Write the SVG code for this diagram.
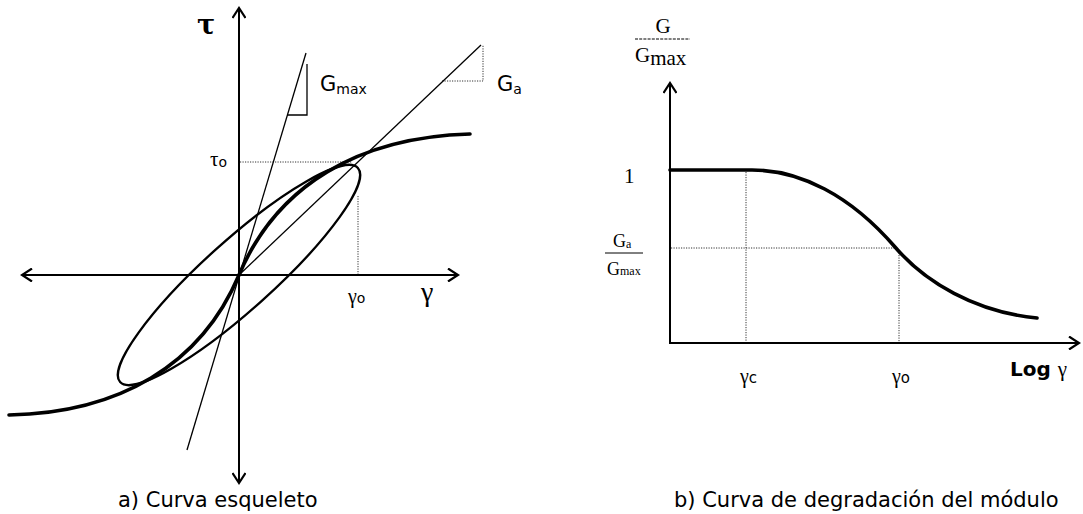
<svg xmlns="http://www.w3.org/2000/svg" width="1083" height="514" viewBox="0 0 1083 514">
<defs>
<marker id="arr" markerWidth="14" markerHeight="14" refX="0" refY="0" viewBox="-11 -7 13 14" orient="auto" markerUnits="userSpaceOnUse">
<path d="M-10,-6.5 L0,0 L-10,6.5" fill="none" stroke="#000" stroke-width="2.2" stroke-linejoin="miter"/>
</marker>
<style>
.ax{stroke:#000;stroke-width:2;fill:none}
.thick{stroke:#000;stroke-width:3.6;fill:none;stroke-linecap:round}
.loop{stroke:#000;stroke-width:2.3;fill:none}
.thin{stroke:#000;stroke-width:1.3;fill:none}
.dot{stroke:#333;stroke-width:1;stroke-dasharray:1.2 1.3;fill:none}
.sans{font-family:"DejaVu Sans","Verdana",sans-serif;fill:#000}
.serif{font-family:"Liberation Serif","Times New Roman",serif;fill:#000}
.dserif{font-family:"DejaVu Serif",serif;fill:#000}
</style>
</defs>
<rect width="1083" height="514" fill="#fff"/>

<g id="chart-a">
<g id="axes-a">
<line class="ax" x1="239" y1="483" x2="239" y2="8" marker-end="url(#arr)"/>
<line class="ax" x1="239" y1="478" x2="239" y2="483" marker-end="url(#arr)"/>
<line class="ax" x1="22" y1="275" x2="458" y2="275" marker-end="url(#arr)"/>
<line class="ax" x1="458" y1="275" x2="22" y2="275" marker-end="url(#arr)"/>
</g>
<g id="guides-a">
<line class="dot" x1="240" y1="162" x2="352" y2="162"/>
<line class="dot" x1="358" y1="196" x2="358" y2="274"/>
<polyline class="dot" points="442,81 483,81 483,45"/>
</g>
<g id="lines-a">
<line class="thin" x1="187" y1="450" x2="306" y2="53"/>
<polyline class="thin" points="287,115 307,115 307,64"/>
<line class="thin" x1="239" y1="275" x2="481" y2="45"/>
</g>
<g id="loop">
<ellipse class="loop" cx="239" cy="275" rx="160" ry="34.5" transform="rotate(-42 239 275)"/>
</g>
<g id="skeleton">
<path class="thick" d="M 9,415 C 119,413 201,365 239,275 C 277,185 359,137 470,134"/>
</g>
<g id="labels-a">
<text class="dserif" x="197" y="34" font-size="27" font-weight="bold">τ</text>
<text class="serif" x="210" y="166" font-size="21">τ<tspan class="sans" font-size="14" dy="1">o</tspan></text>
<text class="serif" x="348" y="303" font-size="20">γ<tspan class="sans" font-size="14">o</tspan></text>
<text class="serif" x="421" y="301" font-size="28">γ</text>
<text class="sans" x="320" y="91" font-size="21">G<tspan font-size="14" dy="3">max</tspan></text>
<text class="sans" x="497" y="91" font-size="21">G<tspan font-size="14" dy="3">a</tspan></text>
<text class="sans" x="118" y="507" font-size="21">a) Curva esqueleto</text>
</g>
</g>

<g id="chart-b">
<g id="axes-b">
<line class="ax" x1="670" y1="344" x2="670" y2="83" marker-end="url(#arr)"/>
<line class="ax" x1="669" y1="343" x2="1079" y2="343" marker-end="url(#arr)"/>
</g>
<g id="guides-b">
<line class="dot" x1="746" y1="172" x2="746" y2="342"/>
<line class="dot" x1="671" y1="248" x2="896" y2="248"/>
<line class="dot" x1="899" y1="250" x2="899" y2="342"/>
</g>
<g id="degradation">
<path class="thick" stroke-width="4" d="M 670,170 L 752,170 C 800,170 850,195 895,247 C 925,282 975,312 1037,318"/>
</g>
<g id="labels-b">
<text class="serif" x="663" y="33" font-size="21" text-anchor="middle">G</text>
<line x1="635" y1="39" x2="690" y2="39" stroke="#000" stroke-width="1" stroke-dasharray="3 1.2"/>
<text class="serif" x="635" y="62" font-size="21">G<tspan dy="3">max</tspan></text>
<text class="serif" x="624" y="183" font-size="21">1</text>
<text class="serif" x="613" y="247" font-size="18">G<tspan font-size="12" dy="1">a</tspan></text>
<line x1="605" y1="253" x2="643" y2="253" stroke="#000" stroke-width="1"/>
<text class="serif" x="607" y="275" font-size="18">G<tspan font-size="12">max</tspan></text>
<text class="serif" x="740" y="383" font-size="20">γ<tspan class="sans" font-size="15">c</tspan></text>
<text class="serif" x="892" y="383" font-size="20">γ<tspan class="sans" font-size="15">o</tspan></text>
<text class="sans" x="1010" y="376" font-size="20" font-weight="bold">Log <tspan class="serif" font-weight="normal" font-size="21">γ</tspan></text>
<text class="sans" x="674" y="507" font-size="21">b) Curva de degradación del módulo</text>
</g>
</g>
</svg>
